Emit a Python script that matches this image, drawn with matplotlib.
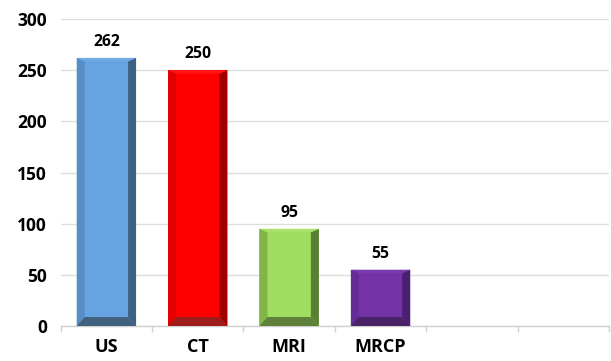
import matplotlib
matplotlib.use("Agg")
import matplotlib.pyplot as plt
from matplotlib.patches import Polygon
from matplotlib.ticker import MultipleLocator, FixedLocator

plt.rcParams['font.family'] = ['Open Sans', 'DejaVu Sans']

categories = ["US", "CT", "MRI", "MRCP"]
counts = [262, 250, 95, 55]
n_slots = 6  # two trailing empty category slots on the axis

face_colors = ["#66A3E0", "#FF0000", "#9FDC5F", "#7434A8"]
top_colors = ["#6FAAE4", "#FF1515", "#A7E169", "#7A3AAE"]
left_colors = ["#588EC8", "#E30000", "#82B548", "#662C96"]
right_colors = ["#3E6082", "#A00000", "#5A7F32", "#4A2070"]
bottom_colors = ["#41627F", "#9E1C1C", "#5E8038", "#4A2268"]

W, H, DPI = 611, 361, 100
fig = plt.figure(figsize=(W / DPI, H / DPI), dpi=DPI)
ax_left, ax_right, ax_bottom, ax_top = 60.7, 609.0, 326.0, 19.0
ax = fig.add_axes([ax_left / W, (H - ax_bottom) / H,
                   (ax_right - ax_left) / W, (ax_bottom - ax_top) / H])

ymax = 300
ax.set_ylim(0, ymax)
ax.set_xlim(-0.5, n_slots - 0.5)

# data units per pixel, for the bevel edges
dx = n_slots / (ax_right - ax_left)
dy = ymax / (ax_bottom - ax_top)
bevel_x = 8.0 * dx
bevel_bottom = 9.0 * dy
bevel_top = 3.5 * dy

bar_width = 0.65
xs = list(range(len(categories)))
bars = ax.bar(xs, counts, width=bar_width, color=face_colors, zorder=3,
              linewidth=0)

for rect, c_top, c_left, c_right, c_bot, val in zip(
        bars, top_colors, left_colors, right_colors, bottom_colors, counts):
    x0 = rect.get_x()
    x1 = x0 + rect.get_width()
    y0, y1 = 0, rect.get_height()
    polys = [
        ([(x0, y0), (x0 + bevel_x, y0 + bevel_bottom),
          (x0 + bevel_x, y1 - bevel_top), (x0, y1)], c_left),
        ([(x1, y0), (x1 - bevel_x, y0 + bevel_bottom),
          (x1 - bevel_x, y1 - bevel_top), (x1, y1)], c_right),
        ([(x0, y0), (x1, y0), (x1 - bevel_x, y0 + bevel_bottom),
          (x0 + bevel_x, y0 + bevel_bottom)], c_bot),
        ([(x0, y1), (x1, y1), (x1 - bevel_x, y1 - bevel_top),
          (x0 + bevel_x, y1 - bevel_top)], c_top),
    ]
    for pts, col in polys:
        ax.add_patch(Polygon(pts, closed=True, facecolor=col,
                             edgecolor='none', zorder=4))
    ax.annotate(f"{val}", xy=(rect.get_x() + rect.get_width() / 2, y1),
                xytext=(0, 8), textcoords='offset pixels',
                ha='center', va='bottom', fontsize=11.3, fontweight='bold',
                color='black', zorder=5)

# gridlines and axes
ax.yaxis.set_major_locator(MultipleLocator(50))
ax.grid(axis='y', color='#DEDEDE', linewidth=1.0, zorder=0)
ax.set_axisbelow(True)
for side in ['left', 'right', 'top']:
    ax.spines[side].set_visible(False)
ax.spines['bottom'].set_color('#D0D0D0')
ax.spines['bottom'].set_linewidth(1.0)

ax.set_xticks(range(n_slots))
ax.set_xticklabels(categories + [""] * (n_slots - len(categories)))
ax.xaxis.set_minor_locator(FixedLocator([i - 0.5 for i in range(n_slots + 1)]))
ax.tick_params(axis='x', which='major', length=0, pad=9,
               labelsize=13, labelcolor='black')
ax.tick_params(axis='x', which='minor', length=4, width=1.0, color='#D0D0D0')
ax.tick_params(axis='y', length=0, pad=10, labelsize=12.5, labelcolor='black')
for lab in ax.get_xticklabels() + ax.get_yticklabels():
    lab.set_fontweight('bold')

fig.savefig("out.png", dpi=DPI, facecolor='white')
